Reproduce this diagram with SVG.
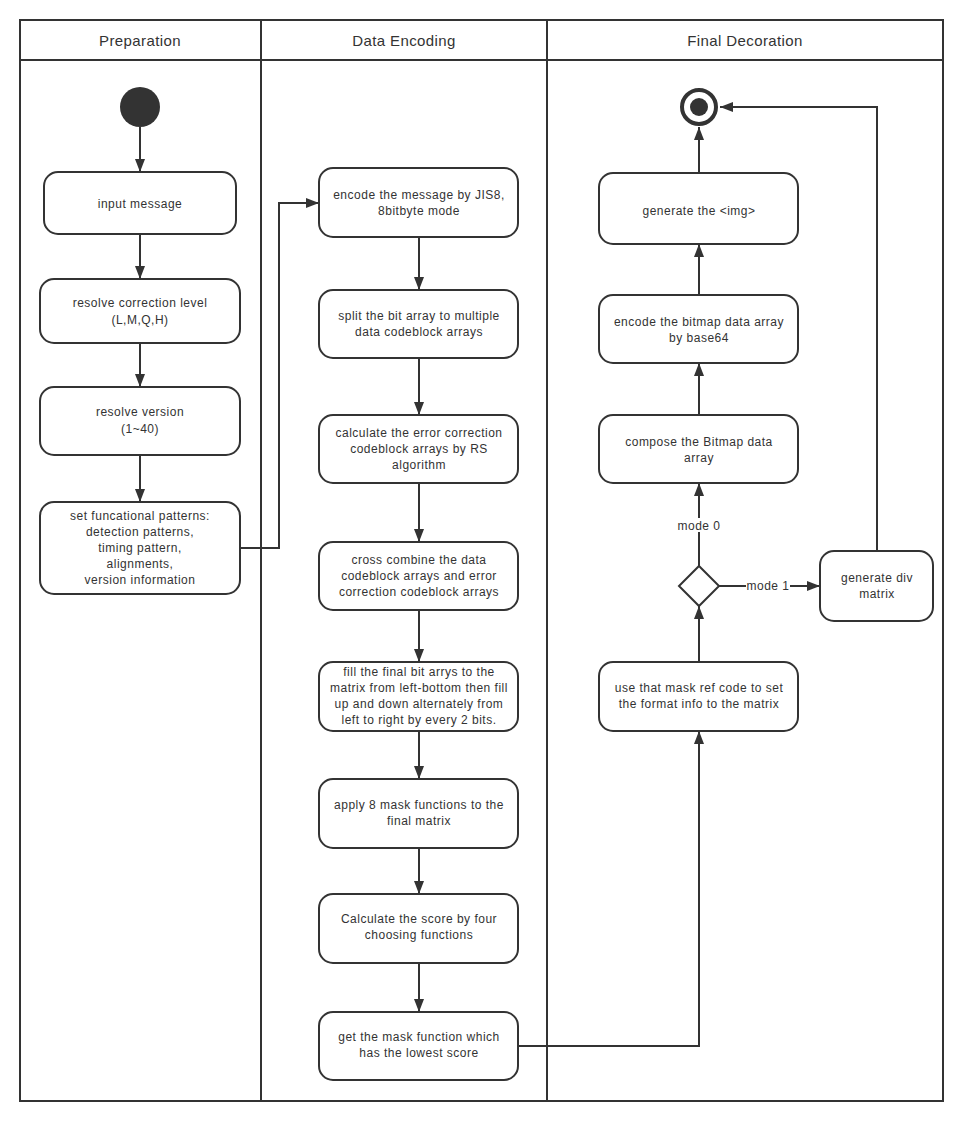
<svg xmlns="http://www.w3.org/2000/svg" width="963" height="1121" viewBox="0 0 963 1121">
<defs>
<style>
.lane{fill:none;stroke:#333;stroke-width:2}
.node{fill:#fff;stroke:#333;stroke-width:2}
.t{font-family:"Liberation Sans",Arial,sans-serif;font-size:12px;fill:#333;text-anchor:middle;letter-spacing:0.5px}
.h{font-family:"Liberation Sans",Arial,sans-serif;font-size:15px;fill:#333;text-anchor:middle;letter-spacing:0.4px}
.c{fill:none;stroke:#333;stroke-width:2}
.lbl{fill:#fff}
</style>
<marker id="arr" viewBox="0 0 13 10" refX="13" refY="5" markerWidth="13" markerHeight="10" markerUnits="userSpaceOnUse" orient="auto">
<path d="M0,0 L13,5 L0,10 Z" fill="#333"/>
</marker>
</defs>
<rect width="963" height="1121" fill="#fff"/>
<g id="lanes">
<rect class="lane" x="20" y="20" width="923" height="1081"/>
<line class="lane" x1="20" y1="60" x2="943" y2="60"/>
<line class="lane" x1="261" y1="20" x2="261" y2="1101"/>
<line class="lane" x1="547" y1="20" x2="547" y2="1101"/>
<text class="h" x="140" y="46">Preparation</text>
<text class="h" x="404" y="46">Data Encoding</text>
<text class="h" x="745" y="46">Final Decoration</text>
</g>
<g id="connectors">
<line class="c" x1="140" y1="127" x2="140" y2="172" marker-end="url(#arr)"/>
<line class="c" x1="140" y1="234" x2="140" y2="279" marker-end="url(#arr)"/>
<line class="c" x1="140" y1="343" x2="140" y2="387" marker-end="url(#arr)"/>
<line class="c" x1="140" y1="455" x2="140" y2="502" marker-end="url(#arr)"/>
<polyline class="c" points="240,548 279,548 279,203 319,203" marker-end="url(#arr)"/>
<line class="c" x1="419" y1="237" x2="419" y2="290" marker-end="url(#arr)"/>
<line class="c" x1="419" y1="358" x2="419" y2="415" marker-end="url(#arr)"/>
<line class="c" x1="419" y1="483" x2="419" y2="542" marker-end="url(#arr)"/>
<line class="c" x1="419" y1="610" x2="419" y2="662" marker-end="url(#arr)"/>
<line class="c" x1="419" y1="731" x2="419" y2="779" marker-end="url(#arr)"/>
<line class="c" x1="419" y1="848" x2="419" y2="894" marker-end="url(#arr)"/>
<line class="c" x1="419" y1="963" x2="419" y2="1012" marker-end="url(#arr)"/>
<polyline class="c" points="518,1046 699,1046 699,731" marker-end="url(#arr)"/>
<line class="c" x1="699" y1="662" x2="699" y2="606" marker-end="url(#arr)"/>
<line class="c" x1="699" y1="566" x2="699" y2="483" marker-end="url(#arr)"/>
<rect class="lbl" x="676" y="518" width="46" height="14"/>
<text class="t" x="699" y="530">mode 0</text>
<line class="c" x1="719" y1="586" x2="820" y2="586" marker-end="url(#arr)"/>
<rect class="lbl" x="746" y="579" width="44" height="14"/>
<text class="t" x="768" y="590">mode 1</text>
<line class="c" x1="699" y1="415" x2="699" y2="363" marker-end="url(#arr)"/>
<line class="c" x1="699" y1="295" x2="699" y2="244" marker-end="url(#arr)"/>
<line class="c" x1="699" y1="173" x2="699" y2="127" marker-end="url(#arr)"/>
<polyline class="c" points="877,551 877,107 720,107" marker-end="url(#arr)"/>
</g>
<g id="start"><circle cx="140" cy="107" r="20" fill="#333"/></g>
<g id="input"><rect class="node" x="44" y="172" width="192" height="62" rx="14"/><text class="t" x="140" y="208">input message</text></g>
<g id="correction"><rect class="node" x="40" y="279" width="200" height="64" rx="14"/><text class="t" x="140" y="307">resolve correction level</text><text class="t" x="140" y="324">(L,M,Q,H)</text></g>
<g id="version"><rect class="node" x="40" y="387" width="200" height="68" rx="14"/><text class="t" x="140" y="416">resolve version</text><text class="t" x="140" y="433">(1~40)</text></g>
<g id="patterns"><rect class="node" x="40" y="502" width="200" height="92" rx="14"/><text class="t" x="140" y="520">set funcational patterns:</text><text class="t" x="140" y="536">detection patterns,</text><text class="t" x="140" y="552">timing pattern,</text><text class="t" x="140" y="568">alignments,</text><text class="t" x="140" y="584">version information</text></g>
<g id="encode"><rect class="node" x="319" y="168" width="199" height="69" rx="14"/><text class="t" x="419" y="199">encode the message by JIS8,</text><text class="t" x="419" y="215">8bitbyte mode</text></g>
<g id="split"><rect class="node" x="319" y="290" width="199" height="68" rx="14"/><text class="t" x="419" y="320">split the bit array to multiple</text><text class="t" x="419" y="336">data codeblock arrays</text></g>
<g id="ecc"><rect class="node" x="319" y="415" width="199" height="68" rx="14"/><text class="t" x="419" y="437">calculate the error correction</text><text class="t" x="419" y="453">codeblock arrays by RS</text><text class="t" x="419" y="469">algorithm</text></g>
<g id="cross"><rect class="node" x="319" y="542" width="199" height="68" rx="14"/><text class="t" x="419" y="564">cross combine the data</text><text class="t" x="419" y="580">codeblock arrays and error</text><text class="t" x="419" y="596">correction codeblock arrays</text></g>
<g id="fill"><rect class="node" x="319" y="662" width="199" height="69" rx="14"/><text class="t" x="419" y="676">fill the final bit arrys to the</text><text class="t" x="419" y="692">matrix from left-bottom then fill</text><text class="t" x="419" y="708">up and down alternately from</text><text class="t" x="419" y="724">left to right by every 2 bits.</text></g>
<g id="mask8"><rect class="node" x="319" y="779" width="199" height="69" rx="14"/><text class="t" x="419" y="809">apply 8 mask functions to the</text><text class="t" x="419" y="825">final matrix</text></g>
<g id="score"><rect class="node" x="319" y="894" width="199" height="69" rx="14"/><text class="t" x="419" y="923">Calculate the score by four</text><text class="t" x="419" y="939">choosing functions</text></g>
<g id="lowest"><rect class="node" x="319" y="1012" width="199" height="68" rx="14"/><text class="t" x="419" y="1041">get the mask function which</text><text class="t" x="419" y="1057">has the lowest score</text></g>
<g id="end"><circle cx="699" cy="107" r="17" fill="#fff" stroke="#333" stroke-width="4"/><circle cx="699" cy="107" r="9" fill="#333"/></g>
<g id="img"><rect class="node" x="599" y="173" width="199" height="71" rx="14"/><text class="t" x="699" y="215">generate the &lt;img&gt;</text></g>
<g id="base64"><rect class="node" x="599" y="295" width="199" height="68" rx="14"/><text class="t" x="699" y="326">encode the bitmap data array</text><text class="t" x="699" y="342">by base64</text></g>
<g id="compose"><rect class="node" x="599" y="415" width="199" height="68" rx="14"/><text class="t" x="699" y="446">compose the Bitmap data</text><text class="t" x="699" y="462">array</text></g>
<g id="decision"><polygon class="node" points="699,566 719,586 699,606 679,586"/></g>
<g id="divmatrix"><rect class="node" x="820" y="551" width="113" height="70" rx="14"/><text class="t" x="877" y="582">generate div</text><text class="t" x="877" y="598">matrix</text></g>
<g id="format"><rect class="node" x="599" y="662" width="199" height="69" rx="14"/><text class="t" x="699" y="692">use that mask ref code to set</text><text class="t" x="699" y="708">the format info to the matrix</text></g>
</svg>
